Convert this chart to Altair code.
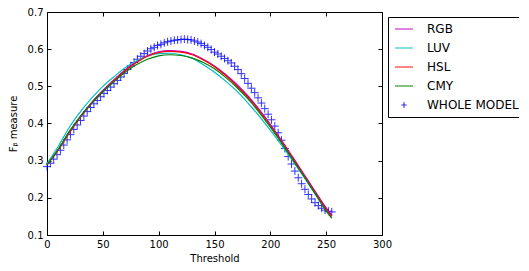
import altair as alt
import pandas as pd

# ---------------- data ----------------
series_names = ["RGB", "LUV", "HSL", "CMY", "WHOLE MODEL"]
series_colors = ["#bf00bf", "#00bfbf", "#ff0000", "#008000", "#0000ff"]

thresholds_lines = [0, 10, 20, 30, 40, 50, 60, 70, 80, 90, 100, 110, 120, 130,
                    140, 150, 160, 170, 180, 190, 200, 210, 220, 230, 240, 250, 255]
rgb = [0.290, 0.330, 0.378, 0.420, 0.457, 0.489, 0.518, 0.544, 0.566, 0.583, 0.593,
       0.596, 0.594, 0.587, 0.573, 0.555, 0.532, 0.505, 0.474, 0.438, 0.398, 0.355,
       0.310, 0.264, 0.218, 0.173, 0.153]
luv = [0.292, 0.338, 0.390, 0.432, 0.468, 0.500, 0.526, 0.550, 0.568, 0.581, 0.588,
       0.589, 0.585, 0.576, 0.558, 0.538, 0.514, 0.487, 0.455, 0.420, 0.382, 0.342,
       0.300, 0.256, 0.211, 0.166, 0.146]
hsl = [0.288, 0.328, 0.375, 0.417, 0.454, 0.486, 0.515, 0.542, 0.564, 0.581, 0.591,
       0.594, 0.592, 0.585, 0.571, 0.553, 0.529, 0.501, 0.470, 0.434, 0.394, 0.351,
       0.306, 0.260, 0.214, 0.169, 0.150]
cmy = [0.289, 0.330, 0.378, 0.419, 0.455, 0.486, 0.513, 0.538, 0.558, 0.573, 0.582,
       0.585, 0.583, 0.576, 0.564, 0.547, 0.524, 0.497, 0.466, 0.430, 0.390, 0.348,
       0.303, 0.258, 0.212, 0.165, 0.145]

thresholds_whole = [0, 3, 6, 9, 12, 15, 18, 21, 24, 27, 30, 33, 36, 39, 42, 45, 48,
                    51, 54, 57, 60, 63, 66, 69, 72, 75, 78, 81, 84, 87, 90, 93, 96,
                    99, 102, 105, 108, 111, 114, 117, 120, 123, 126, 129, 132, 135,
                    138, 141, 144, 147, 150, 153, 156, 159, 162, 165, 168, 171, 174,
                    177, 180, 183, 186, 189, 192, 195, 198, 201, 204, 207, 210, 213,
                    216, 219, 222, 225, 228, 231, 234, 237, 240, 243, 246, 249, 252,
                    255]
whole = [0.284, 0.293, 0.304, 0.316, 0.328, 0.342, 0.356, 0.370, 0.384, 0.396, 0.408,
         0.420, 0.432, 0.443, 0.453, 0.462, 0.472, 0.481, 0.489, 0.498, 0.507, 0.516,
         0.525, 0.535, 0.545, 0.555, 0.564, 0.573, 0.581, 0.588, 0.595, 0.601, 0.605,
         0.610, 0.613, 0.617, 0.620, 0.622, 0.624, 0.625, 0.626, 0.627, 0.626, 0.625,
         0.622, 0.619, 0.615, 0.610, 0.605, 0.599, 0.592, 0.587, 0.581, 0.575, 0.569,
         0.563, 0.554, 0.545, 0.534, 0.521, 0.508, 0.495, 0.483, 0.469, 0.455, 0.440,
         0.425, 0.410, 0.393, 0.375, 0.355, 0.333, 0.311, 0.291, 0.272, 0.254, 0.238,
         0.223, 0.209, 0.197, 0.187, 0.179, 0.172, 0.167, 0.164, 0.162]

x_ticks = [0, 50, 100, 150, 200, 250, 300]
y_ticks = [0.1, 0.2, 0.3, 0.4, 0.5, 0.6, 0.7]

# ---------------- tables ----------------
rows = []
for name, vals in zip(series_names[:4], [rgb, luv, hsl, cmy]):
    for t, v in zip(thresholds_lines, vals):
        rows.append({"t": t, "v": v, "series": name})
df_lines = pd.DataFrame(rows)
df_whole = pd.DataFrame({"t": thresholds_whole, "v": whole, "series": "WHOLE MODEL"})

W, H = 335, 223
cross = "M-0.3,0L0.3,0M0,-0.3L0,0.3"

color_scale = alt.Scale(domain=series_names, range=series_colors)
shape_scale = alt.Scale(domain=series_names,
                        range=["stroke", "stroke", "stroke", "stroke", cross])

legend = alt.Legend(title=None, orient="none", legendX=341, legendY=5,
                    strokeColor="black", fillColor="white", padding=6,
                    cornerRadius=0, labelFontSize=12, labelColor="black",
                    symbolSize=324, symbolStrokeWidth=1.2, labelOffset=13,
                    clipHeight=12, rowPadding=7)

x_enc = alt.X("t:Q", scale=alt.Scale(domain=[0, 300], nice=False),
              axis=alt.Axis(values=x_ticks, format="d", title="Threshold",
                            grid=True, gridDash=[4, H - 8, 4, 2000],
                            gridColor="black", gridOpacity=1, gridWidth=1,
                            ticks=False, domain=False, labelPadding=4,
                            labelFlush=False, titlePadding=4))
y_enc = alt.Y("v:Q", scale=alt.Scale(domain=[0.1, 0.7], nice=False, zero=False),
              axis=alt.Axis(values=y_ticks, format=".1f", title="F\u1d66 measure",
                            grid=True, gridDash=[4, W - 8, 4, 2000],
                            gridColor="black", gridOpacity=1, gridWidth=1,
                            ticks=False, domain=False, labelPadding=4,
                            labelFlush=False, titlePadding=9))

points = alt.Chart(df_whole).mark_point(
    shape=cross, filled=False, size=711, strokeWidth=1, opacity=0.8
).encode(
    x=x_enc, y=y_enc,
    color=alt.Color("series:N", scale=color_scale, legend=legend),
    shape=alt.Shape("series:N", scale=shape_scale, legend=legend),
)

lines = alt.Chart(df_lines).mark_line(strokeWidth=1.2, interpolate="monotone").encode(
    x=x_enc, y=y_enc,
    color=alt.Color("series:N", scale=color_scale, legend=legend),
)

chart = alt.layer(points, lines).properties(
    width=W, height=H,
    autosize=alt.AutoSizeParams(type="none"),
    padding={"left": 39, "top": 4, "right": 137, "bottom": 29},
).configure(font="DejaVu Sans").configure_view(
    stroke="black", strokeWidth=1
).configure_axis(
    labelFontSize=10, titleFontSize=10, titleFontWeight="normal",
    labelColor="black", titleColor="black"
)

chart.save("out.html", embed_options={"renderer": "svg", "actions": False})
